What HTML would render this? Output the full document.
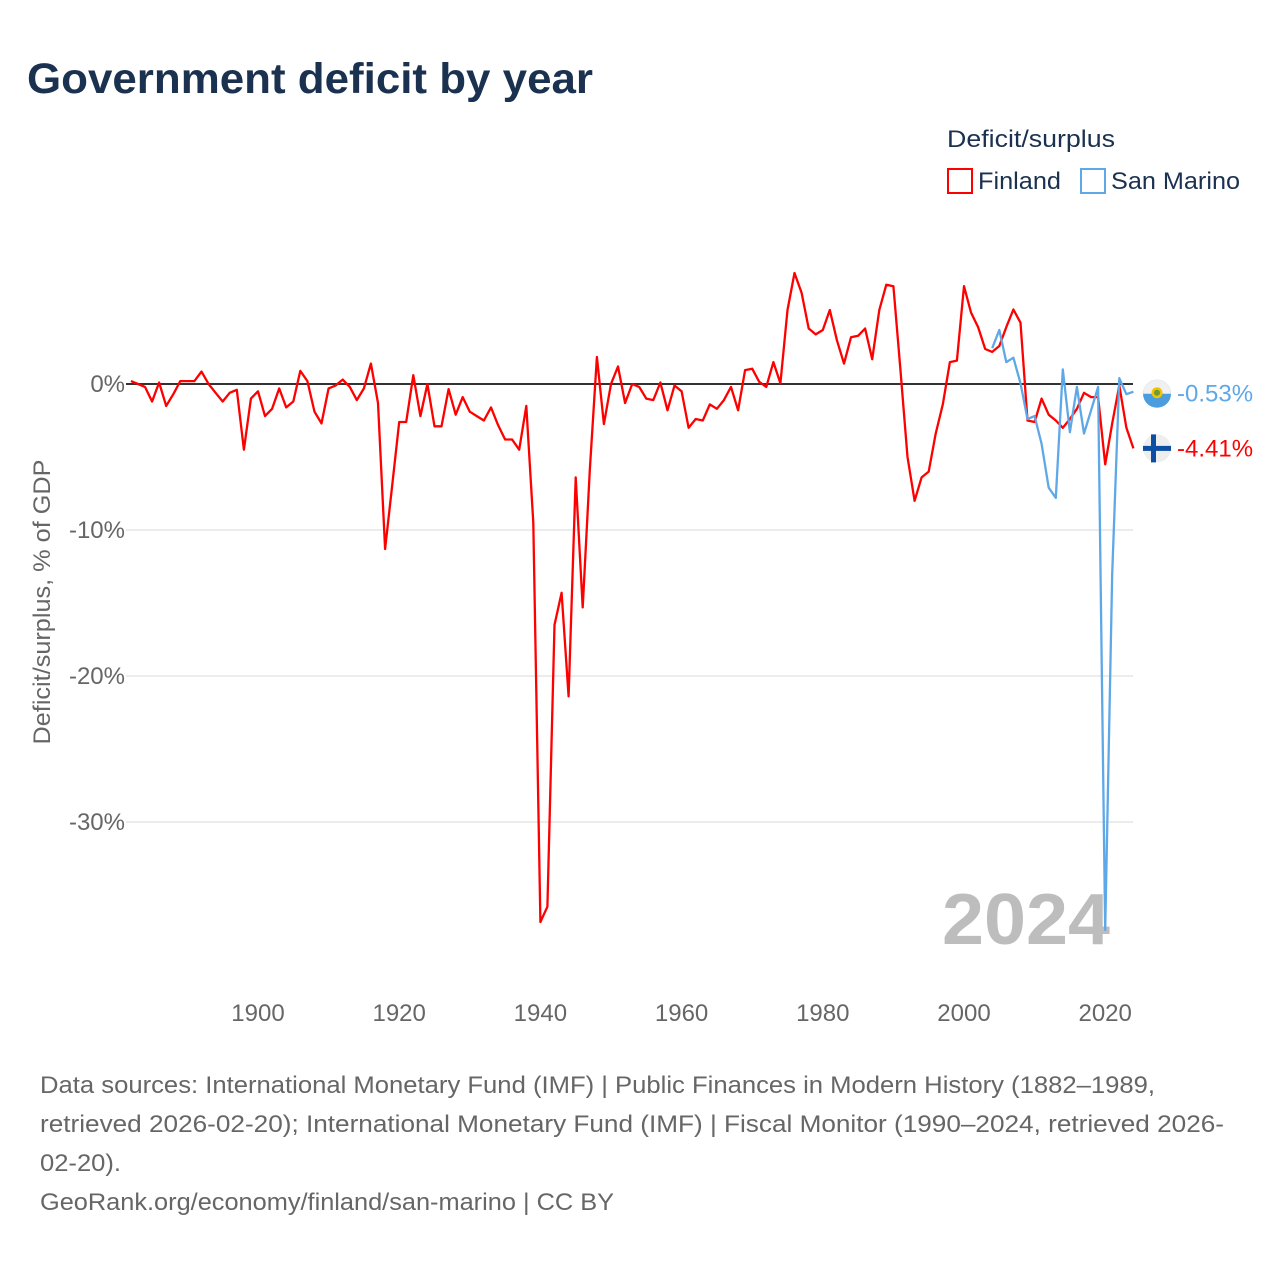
<!DOCTYPE html>
<html><head><meta charset="utf-8">
<style>
body{margin:0;background:#fff;width:1280px;height:1280px;overflow:hidden;font-family:"Liberation Sans",sans-serif;}
</style></head>
<body>
<svg width="1280" height="1280" xmlns="http://www.w3.org/2000/svg" id="chart">
<text x="27" y="93" font-size="43" font-weight="bold" fill="#1a3150" textLength="566" lengthAdjust="spacingAndGlyphs">Government deficit by year</text>
<text x="947" y="147" font-size="24" fill="#1a3150" textLength="168" lengthAdjust="spacingAndGlyphs">Deficit/surplus</text>
<g><rect x="948" y="169" width="24" height="24" fill="none" stroke="#ff0000" stroke-width="2"/><text x="978" y="189" font-size="24" fill="#1a3150" textLength="83" lengthAdjust="spacingAndGlyphs">Finland</text></g>
<g><rect x="1081" y="169" width="24" height="24" fill="none" stroke="#5fa8e8" stroke-width="2"/><text x="1111" y="189" font-size="24" fill="#1a3150" textLength="129" lengthAdjust="spacingAndGlyphs">San Marino</text></g>
<g id="grid"></g>
<text x="1110" y="944" font-size="72" font-weight="bold" fill="#bdbdbd" text-anchor="end" textLength="168" lengthAdjust="spacingAndGlyphs">2024</text>
<g id="marks"></g>
<text transform="translate(50,602) rotate(-90)" font-size="24" fill="#666" text-anchor="middle" textLength="285" lengthAdjust="spacingAndGlyphs">Deficit/surplus, % of GDP</text>
<g font-size="24" fill="#666">
<text x="40" y="1093" textLength="1115" lengthAdjust="spacingAndGlyphs">Data sources: International Monetary Fund (IMF) | Public Finances in Modern History (1882–1989,</text>
<text x="40" y="1132" textLength="1184" lengthAdjust="spacingAndGlyphs">retrieved 2026-02-20); International Monetary Fund (IMF) | Fiscal Monitor (1990–2024, retrieved 2026-</text>
<text x="40" y="1171" textLength="81" lengthAdjust="spacingAndGlyphs">02-20).</text>
<text x="40" y="1210" textLength="574" lengthAdjust="spacingAndGlyphs">GeoRank.org/economy/finland/san-marino | CC BY</text>
</g>
</svg>
<script>
const finlandStart = 1882;
const finlandValues = [0.2,0,-0.2,-1.2,0.1,-1.5,-0.7,0.2,0.2,0.2,0.85,0,-0.6,-1.2,-0.6,-0.4,-4.5,-1.0,-0.5,-2.2,-1.7,-0.3,-1.6,-1.2,0.9,0.2,-1.9,-2.7,-0.3,-0.1,0.3,-0.2,-1.1,-0.3,1.4,-1.3,-11.3,-7.0,-2.6,-2.6,0.6,-2.2,0,-2.9,-2.9,-0.35,-2.1,-0.9,-1.9,-2.2,-2.5,-1.6,-2.8,-3.8,-3.8,-4.5,-1.5,-9.5,-36.85,-35.8,-16.5,-14.3,-21.4,-6.4,-15.3,-5.9,1.85,-2.75,0,1.2,-1.3,0,-0.2,-1.0,-1.1,0.1,-1.8,-0.1,-0.5,-3.0,-2.4,-2.5,-1.4,-1.7,-1.1,-0.2,-1.8,0.95,1.05,0.15,-0.2,1.5,0.05,5.07,7.6,6.25,3.8,3.4,3.7,5.07,3.0,1.4,3.2,3.3,3.8,1.7,5.07,6.8,6.7,1.0,-5.0,-8.0,-6.4,-6.0,-3.4,-1.4,1.5,1.6,6.7,4.9,3.9,2.4,2.2,2.6,3.9,5.1,4.2,-2.5,-2.6,-1.0,-2.1,-2.5,-3.0,-2.4,-1.7,-0.6,-0.9,-0.9,-5.5,-2.7,-0.1,-3.0,-4.41];
const smStart = 2004;
const smValues = [2.45,3.7,1.5,1.8,0.05,-2.4,-2.2,-4.1,-7.1,-7.8,1.0,-3.3,-0.2,-3.4,-1.8,-0.2,-37.4,-13.0,0.4,-0.7,-0.53];
const xTicks = [1900,1920,1940,1960,1980,2000,2020];
const yTicks = [0,-10,-20,-30];
const yTickLabels = ["0%","-10%","-20%","-30%"];

const X0=130.9, PX=7.06, Y0=384, PY=14.6;
const xs = y => X0 + (y-1882)*PX;
const ys = v => Y0 - v*PY;
const NS="http://www.w3.org/2000/svg";
const grid=document.getElementById('grid'), marks=document.getElementById('marks');
function mk(tag, attrs, parent){const e=document.createElementNS(NS,tag);for(const k in attrs)e.setAttribute(k,attrs[k]);parent.appendChild(e);return e;}
yTicks.forEach((t,i)=>{
  if(t!==0){const l=mk('line',{x1:126,x2:1133,y1:ys(t),y2:ys(t),stroke:'#e6e6e6','stroke-width':1.5},grid);
  
  }
  const tx=mk('text',{x:125,y:ys(t)+8,'font-size':24,fill:'#666','text-anchor':'end'},grid);
  tx.textContent=yTickLabels[i];
  
  
});
xTicks.forEach(t=>{
  const tx=mk('text',{x:xs(t),y:1021,'font-size':24,fill:'#666','text-anchor':'middle'},grid);
  tx.textContent=t;
  
  
});
const zl=mk('line',{x1:126,x2:1133,y1:ys(0),y2:ys(0),stroke:'#333','stroke-width':2},grid);


function line(start, vals, color, name){
  const pts=vals.map((v,i)=>xs(start+i).toFixed(1)+','+ys(v).toFixed(1)).join(' ');
  const p=mk('polyline',{points:pts,fill:'none',stroke:color,'stroke-width':2.3,'stroke-linejoin':'round'},marks);
  
  
}
line(finlandStart, finlandValues, '#ff0000', 'finland-line');
line(smStart, smValues, '#5fa8e8', 'san-marino-line');
const smLast=smValues[smValues.length-1], fiLast=finlandValues[finlandValues.length-1];
const smy=ys(smLast)+2, fiy=ys(fiLast)+0;
const cx=1157;
const sm=mk('g',{},marks);


mk('circle',{cx:cx,cy:smy,r:14,fill:'#4a9ee0'},sm);
mk('path',{d:`M${cx-14},${smy} A14,14 0 0 1 ${cx+14},${smy} Z`,fill:'#f0f0f0'},sm);
mk('circle',{cx:cx,cy:smy-1,r:5.5,fill:'#f2c200'},sm);
mk('circle',{cx:cx,cy:smy-1,r:3,fill:'#6a9a3a'},sm);
const fi=mk('g',{},marks);


mk('circle',{cx:cx,cy:fiy,r:14,fill:'#eeeeee'},fi);
mk('rect',{x:cx-14,y:fiy-2.5,width:28,height:5,fill:'#0b4ea2'},fi);
mk('rect',{x:cx-6,y:fiy-14,width:5,height:28,fill:'#0b4ea2'},fi);
const l1=mk('text',{x:1177,y:smy+8,'font-size':24,fill:'#5fa8e8'},marks);
l1.textContent=smLast.toFixed(2)+'%';


const l2=mk('text',{x:1177,y:fiy+8,'font-size':24,fill:'#ff0000'},marks);
l2.textContent=fiLast.toFixed(2)+'%';


</script>
</body></html>
